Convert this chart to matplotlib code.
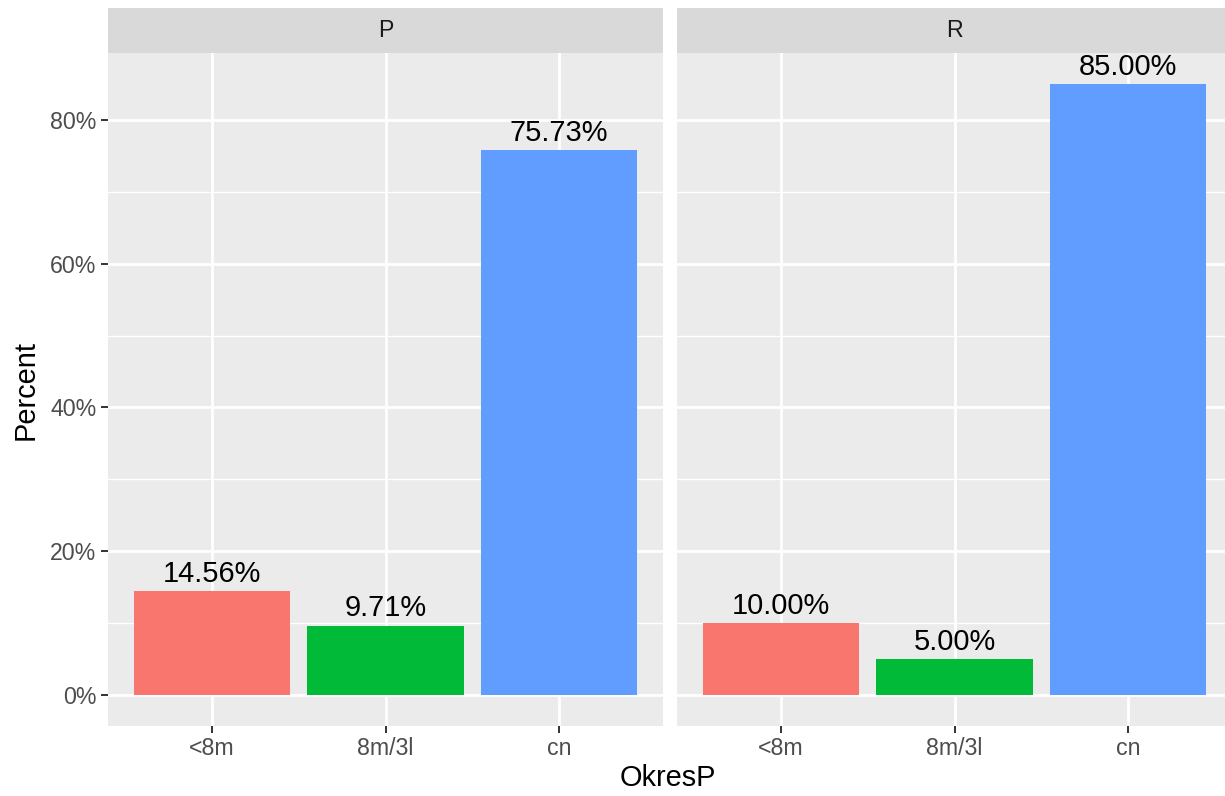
import numpy as np
import matplotlib
matplotlib.use('Agg')
import matplotlib.pyplot as plt
from matplotlib.ticker import FuncFormatter

plt.rcParams['font.family'] = ['Liberation Sans', 'DejaVu Sans']

# ── 데이터 ──────────────────────────────────────────
categories = ["<8m", "8m/3l", "cn"]
panels     = ["P", "R"]
pct_P      = [14.56, 9.71, 75.73]
pct_R      = [10.00, 5.00, 85.00]
values     = [pct_P, pct_R]
colors     = ["#F8766D", "#00BA38", "#619CFF"]

W, H = 1225, 796
fig = plt.figure(figsize=(W / 100, H / 100), dpi=100)

panel_left = [108, 677]
panel_w, top, bottom, strip_top = 555, 53, 726, 8

x = np.arange(1, len(categories) + 1)
for i, (name, vals) in enumerate(zip(panels, values)):
    l = panel_left[i]
    ax = fig.add_axes([l / W, (H - bottom) / H, panel_w / W, (bottom - top) / H])
    ax.set_facecolor("#EBEBEB")
    for s in ax.spines.values():
        s.set_visible(False)
    ax.set_xlim(0.4, 3.6)
    ax.set_ylim(-4.25, 89.25)
    ax.set_yticks([0, 20, 40, 60, 80])
    ax.set_yticks([10, 30, 50, 70], minor=True)
    ax.set_xticks(x)
    ax.set_xticklabels(categories)
    ax.grid(which="major", color="white", linewidth=2.0)
    ax.grid(which="minor", axis="y", color="white", linewidth=1.0)
    ax.set_axisbelow(True)
    ax.tick_params(axis="both", which="major", length=5.2, width=1.4, color="#333333",
                   labelsize=16.7, labelcolor="#4D4D4D", pad=3)
    ax.tick_params(axis="both", which="minor", length=0)
    ax.yaxis.set_major_formatter(FuncFormatter(lambda v, p: f"{v:.0f}%"))
    if i > 0:
        ax.tick_params(axis="y", which="both", left=False, labelleft=False)
    else:
        ax.set_ylabel("Percent", fontsize=20.9, labelpad=8)

    ax.bar(x, vals, width=0.9, color=colors, zorder=2)
    for xi, v in zip(x, vals):
        ax.annotate(f"{v:.2f}%", (xi, v), xytext=(0, 6.5), textcoords="offset points",
                    ha="center", va="baseline", fontsize=20.9, color="black")

    # 패싯 스트립
    sax = fig.add_axes([l / W, (H - top) / H, panel_w / W, (top - strip_top) / H])
    sax.set_facecolor("#D9D9D9")
    sax.set_xticks([])
    sax.set_yticks([])
    for s in sax.spines.values():
        s.set_visible(False)
    sax.text(0.5, 0.5, name, ha="center", va="center", fontsize=16.7,
             color="#1A1A1A", transform=sax.transAxes)

fig.text(668 / W, (H - 778) / H, "OkresP", ha="center", va="center", fontsize=20.9)

plt.savefig("out.png", dpi=100)
